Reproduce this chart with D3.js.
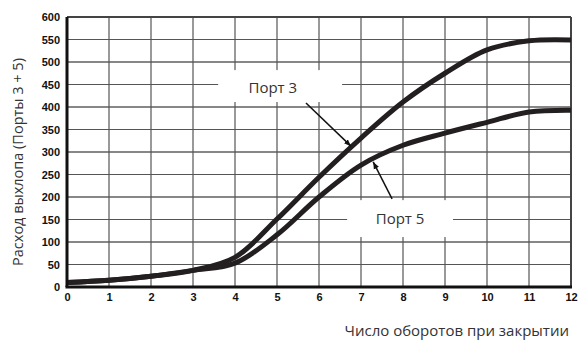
<!DOCTYPE html>
<html>
<head>
<meta charset="utf-8">
<script src="https://cdn.jsdelivr.net/npm/d3@7"></script>
<style>
  html, body { margin: 0; padding: 0; background: #fff; }
  svg { display: block; }
</style>
</head>
<body>
<div id="chart"></div>
<script>
// Exhaust flow vs. turns at closing, ports 3 and 5
const xTicks = [0, 1, 2, 3, 4, 5, 6, 7, 8, 9, 10, 11, 12];
const yTicks = [0, 50, 100, 150, 200, 250, 300, 350, 400, 450, 500, 550, 600];
const turns = [0, 1, 2, 3, 4, 5, 6, 7, 8, 9, 10, 11, 12];
const port3 = [10, 15, 24, 37, 66, 151, 244, 331, 411, 475, 527, 547, 549];
const port5 = [10, 15, 24, 37, 53, 116, 200, 271, 315, 342, 366, 389, 393];
const seriesNames = ['Порт 3', 'Порт 5'];
const xTitle = 'Число оборотов при закрытии';
const yTitle = 'Расход выхлопа (Порты 3 + 5)';
// label boxes: [x0, x1, y0, y1] in data units, arrow [from, to]
const labelBoxes = [[3.6, 6.55, 482, 411], [6.67, 9.19, 193, 111]];
const labelAt = [[4.9, 442], [7.93, 152]];
const arrows = [[[5.69, 409], [6.76, 313]], [[7.74, 196], [7.29, 278]]];

(function () {
  'use strict';
  const W = 581, H = 340;
  const margin = { top: 17, right: 10, bottom: 53, left: 67 };
  const innerW = 571 - margin.left, innerH = 287 - margin.top;

  const svg = d3.select('#chart').append('svg').attr('width', W).attr('height', H);
  const defs = svg.append('defs');
  defs.append('marker').attr('id', 'arr').attr('viewBox', '0 0 10 10')
    .attr('refX', 10).attr('refY', 5).attr('markerWidth', 7).attr('markerHeight', 7)
    .attr('orient', 'auto').attr('markerUnits', 'userSpaceOnUse')
    .append('path').attr('d', 'M0,1 L10,5 L0,9 Z').attr('fill', '#111');

  const g = svg.append('g').attr('transform', `translate(${margin.left},${margin.top})`);
  const x = d3.scaleLinear().domain([0, 12]).range([0, innerW]);
  const y = d3.scaleLinear().domain([0, 600]).range([innerH, 0]);

  // grid
  g.append('g').selectAll('line').data(yTicks.slice(1, -1)).enter().append('line')
    .attr('x1', 0).attr('x2', innerW).attr('y1', d => y(d)).attr('y2', d => y(d))
    .attr('stroke', (d, i) => i % 2 ? '#111' : '#555').attr('stroke-width', 1.2);
  g.append('g').selectAll('line').data(xTicks.slice(1, -1)).enter().append('line')
    .attr('y1', 0).attr('y2', innerH).attr('x1', d => x(d)).attr('x2', d => x(d))
    .attr('stroke', '#555').attr('stroke-width', 1.2);

  // frame
  g.append('line').attr('x1', 0).attr('x2', innerW).attr('y1', 0).attr('y2', 0)
    .attr('stroke', '#444').attr('stroke-width', 2);
  g.append('line').attr('x1', innerW).attr('x2', innerW).attr('y1', 0).attr('y2', innerH)
    .attr('stroke', '#444').attr('stroke-width', 2);

  // curves
  const line = d3.line().x(d => x(d[0])).y(d => y(d[1])).curve(d3.curveCatmullRom.alpha(0.5));
  [port3, port5].forEach(vals => {
    g.append('path').datum(turns.map((t, i) => [t, vals[i]]))
      .attr('fill', 'none').attr('stroke', '#231f20').attr('stroke-width', 5)
      .attr('stroke-linejoin', 'round').attr('d', line);
  });

  // axes
  g.append('line').attr('x1', 0).attr('x2', 0).attr('y1', 0).attr('y2', innerH)
    .attr('stroke', '#111').attr('stroke-width', 3);
  g.append('line').attr('x1', -1.5).attr('x2', innerW + 1).attr('y1', innerH).attr('y2', innerH)
    .attr('stroke', '#111').attr('stroke-width', 3);

  const xa = g.append('g').attr('transform', `translate(0,${innerH})`)
    .call(d3.axisBottom(x).tickValues(xTicks).tickSize(0).tickPadding(6).tickFormat(d3.format('d')));
  const ya = g.append('g')
    .call(d3.axisLeft(y).tickValues(yTicks).tickSize(0).tickPadding(7).tickFormat(d3.format('d')));
  [xa, ya].forEach(a => {
    a.select('.domain').remove();
    a.selectAll('text').attr('fill', '#111')
      .style('font-family', "'Liberation Sans', Arial, sans-serif")
      .style('font-weight', 'bold').style('font-size', '11px');
  });

  // labels
  labelBoxes.forEach((b, i) => {
    g.append('rect').attr('x', x(b[0])).attr('y', y(b[2]))
      .attr('width', x(b[1]) - x(b[0])).attr('height', y(b[3]) - y(b[2])).attr('fill', '#fff');
    g.append('text').attr('x', x(labelAt[i][0])).attr('y', y(labelAt[i][1]))
      .attr('text-anchor', 'middle').attr('dy', '0.35em')
      .style('font-family', "'Open Sans', 'Noto Sans', sans-serif").style('font-size', '15px')
      .attr('fill', '#333').text(seriesNames[i]);
  });
  arrows.forEach(a => {
    g.append('line').attr('x1', x(a[0][0])).attr('y1', y(a[0][1]))
      .attr('x2', x(a[1][0])).attr('y2', y(a[1][1]))
      .attr('stroke', '#111').attr('stroke-width', 1.5).attr('marker-end', 'url(#arr)');
  });

  // titles
  svg.append('text').attr('x', 569).attr('y', 336).attr('text-anchor', 'end')
    .style('font-family', "'Open Sans', 'Noto Sans', sans-serif").style('font-size', '15px')
    .attr('fill', '#333').text(xTitle);
  svg.append('text').attr('transform', `translate(23,${162}) rotate(-90)`)
    .attr('text-anchor', 'middle')
    .style('font-family', "'Open Sans', 'Noto Sans', sans-serif").style('font-size', '14.5px')
    .attr('fill', '#333').text(yTitle);
})();
</script>
</body>
</html>
